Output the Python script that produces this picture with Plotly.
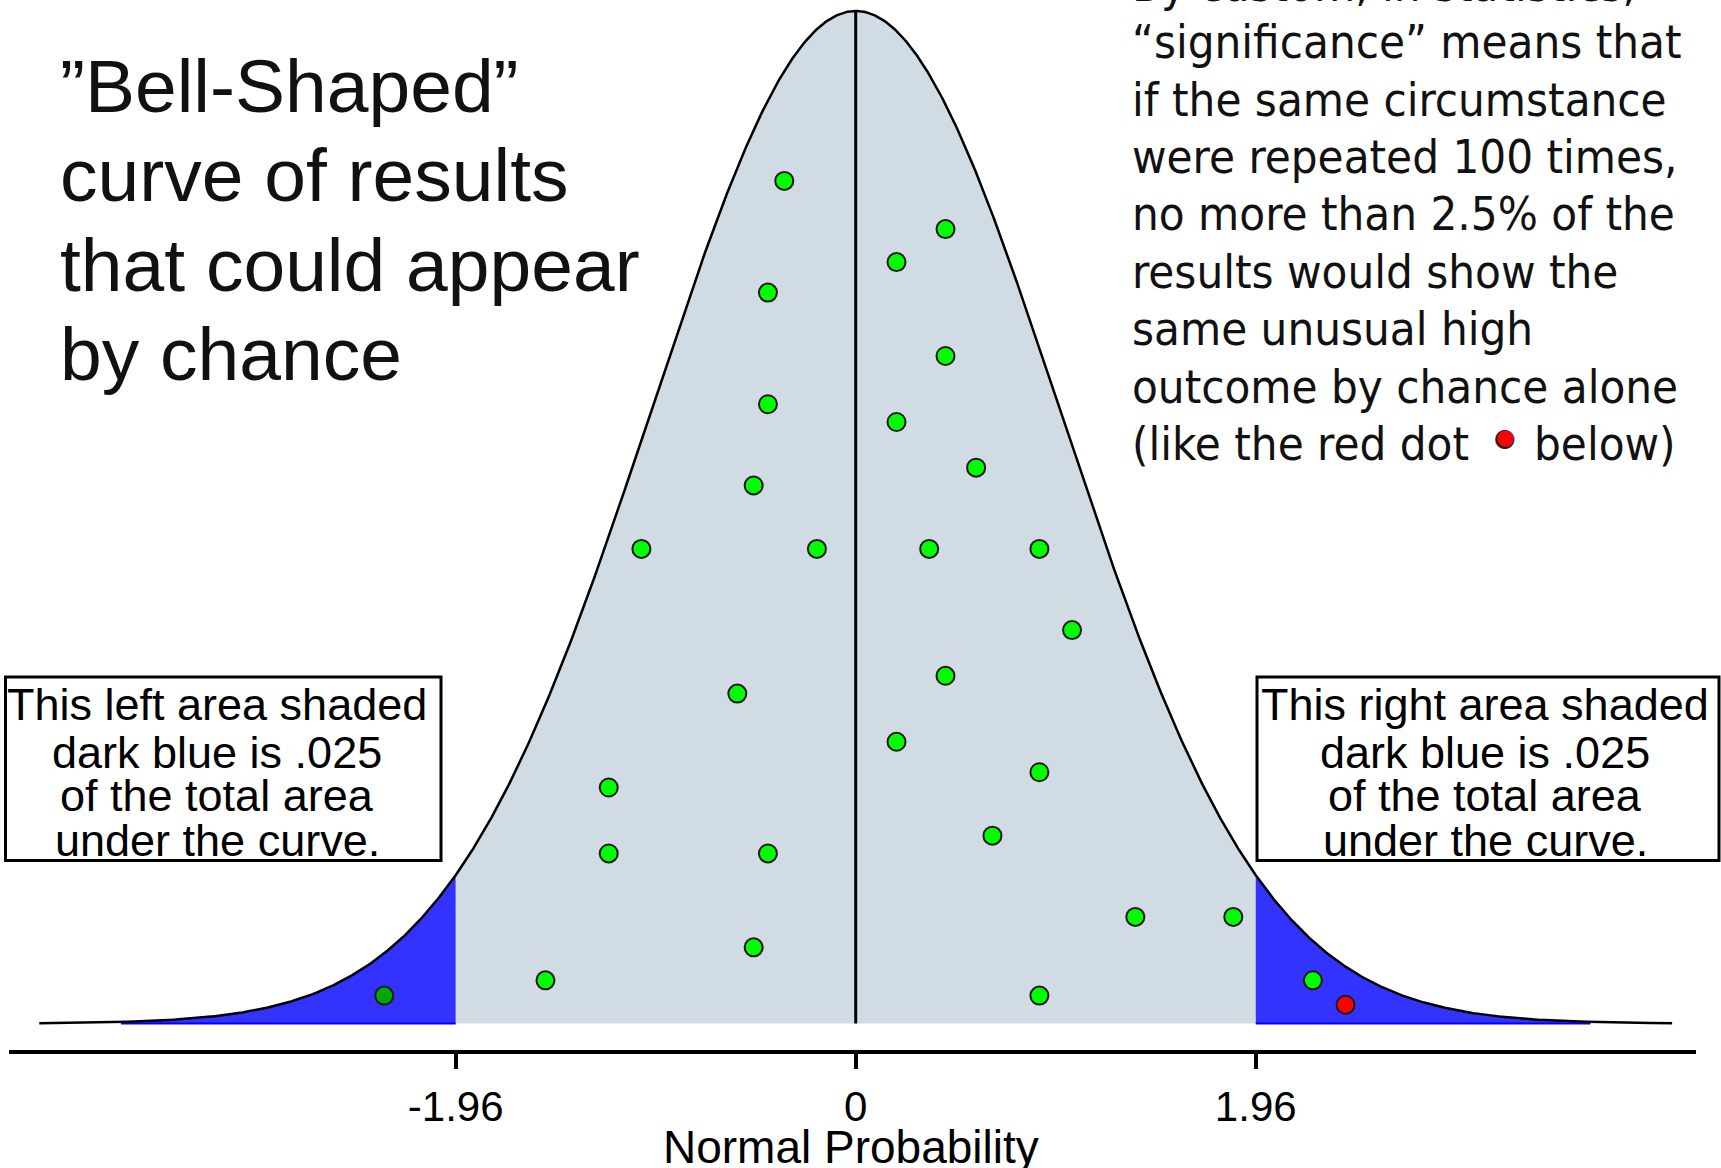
import numpy as np
import plotly.graph_objects as go

W, H = 1721, 1168

# ---------------- data ----------------
crit = 1.96                      # critical value (two-sided 5%)
curve_lo, curve_hi = -4.0, 4.0   # extent of drawn curve
tail_lo, tail_hi = -3.6, 3.6     # extent of blue shading
tick_vals = [-1.96, 0, 1.96]
tick_text = ["-1.96", "0", "1.96"]
x_title = "Normal Probability"

green_x = [-0.35, 0.44, 0.20, -0.43, 0.44, -0.43, 0.20, 0.59, -0.50, -1.05,
           -0.19, 0.36, 0.90, 1.06, 0.44, -0.58, 0.20, 0.90, -1.21, -1.21,
           -0.43, 0.67, 1.37, 1.85, -0.50, -1.52, 2.24, 0.90]
green_y = [0.332, 0.313, 0.300, 0.288, 0.263, 0.244, 0.237, 0.219, 0.212, 0.187,
           0.187, 0.187, 0.187, 0.155, 0.137, 0.130, 0.111, 0.099, 0.093, 0.067,
           0.067, 0.074, 0.042, 0.042, 0.030, 0.017, 0.017, 0.011]
dark_x = [-2.31]
dark_y = [0.011]
red_x = [2.40]
red_y = [0.0074]

left_title = ["\u201dBell-Shaped\u201d", "curve of results", "that could appear", "by chance"]
right_text = [
    "By custom, in statistics,",
    "\u201csignificance\u201d means that",
    "if the same circumstance",
    "were repeated 100 times,",
    "no more than 2.5% of the",
    "results would show the",
    "same unusual high",
    "outcome by chance alone",
    "(like the red dot",
]
right_text_tail = "below)"
left_box = ["This left area shaded", "dark blue is .025", "of the total area", "under the curve."]
right_box = ["This right area shaded", "dark blue is .025", "of the total area", "under the curve."]

# ---------------- helpers ----------------
def pdf(x):
    return np.exp(-np.asarray(x) ** 2 / 2) / np.sqrt(2 * np.pi)

def px(x):
    return x / W

def py(y):
    return 1 - y / H

fig = go.Figure()

# grey central area
xc = np.linspace(-crit, crit, 400)
fig.add_trace(go.Scatter(x=xc, y=pdf(xc), fill="tozeroy", fillcolor="#d1dbe4",
                         mode="none", hoverinfo="skip"))
# blue tails
for a, b in [(tail_lo, -crit), (crit, tail_hi)]:
    xt = np.linspace(a, b, 200)
    fig.add_trace(go.Scatter(x=xt, y=pdf(xt), fill="tozeroy", fillcolor="#3333ff",
                             mode="none", hoverinfo="skip"))
    fig.add_trace(go.Scatter(x=[a, b], y=[0, 0], mode="lines",
                             line=dict(color="#0000ff", width=2), hoverinfo="skip"))
# curve
xs = np.linspace(curve_lo, curve_hi, 1201)
fig.add_trace(go.Scatter(x=xs, y=pdf(xs), mode="lines",
                         line=dict(color="black", width=2.5), hoverinfo="skip"))
# centre line
fig.add_trace(go.Scatter(x=[0, 0], y=[0, float(pdf(0))], mode="lines",
                         line=dict(color="black", width=3), hoverinfo="skip"))
# dots
mk = dict(size=18, line=dict(color="#1a1a1a", width=2))
fig.add_trace(go.Scatter(x=green_x, y=green_y, mode="markers",
                         marker=dict(color="#00ff00", **mk)))
fig.add_trace(go.Scatter(x=dark_x, y=dark_y, mode="markers",
                         marker=dict(color="#00a800", **mk)))
fig.add_trace(go.Scatter(x=red_x, y=red_y, mode="markers",
                         marker=dict(color="#ff0000", **mk)))

ann = []
# left title
for i, t in enumerate(left_title):
    ann.append(dict(x=px(58), y=py(86 + 89.4 * i), text=t, xanchor="left", yanchor="middle",
                    font=dict(family="Liberation Sans, Arial", size=75, color="#111111")))
# right explanatory text
rfont = dict(family="DejaVu Sans Condensed, DejaVu Sans", size=47, color="#111111")
for i, t in enumerate(right_text):
    ann.append(dict(x=px(1130), y=py(-15.7 + 57.4 * i), text=t, xanchor="left", yanchor="middle",
                    font=rfont))
last_y = -15.7 + 57.4 * (len(right_text) - 1)
ann.append(dict(x=px(1532), y=py(last_y), text=right_text_tail, xanchor="left", yanchor="middle",
                font=rfont))
# inline red dot in the text (outline + fill)
ann.append(dict(x=px(1505), y=py(437), text="\u25cf", xanchor="center", yanchor="middle",
                font=dict(family="DejaVu Sans", size=25, color="#222222")))
ann.append(dict(x=px(1505), y=py(437), text="\u25cf", xanchor="center", yanchor="middle",
                font=dict(family="DejaVu Sans", size=21, color="#ff0000")))
# boxes text
box_rows = [704, 752, 796, 840]
for i, t in enumerate(left_box):
    ann.append(dict(x=px(217), y=py(box_rows[i]), text=t, xanchor="center", yanchor="middle",
                    font=dict(family="Liberation Sans, Arial", size=45, color="black")))
for i, t in enumerate(right_box):
    ann.append(dict(x=px(1485), y=py(box_rows[i]), text=t, xanchor="center", yanchor="middle",
                    font=dict(family="Liberation Sans, Arial", size=45, color="black")))
# x-axis title (placed low, partly cut by the page edge as in the original)
ann.append(dict(x=px(851), y=py(1147), text=x_title, xanchor="center", yanchor="middle",
                font=dict(family="Liberation Sans, Arial", size=46, color="black")))
for a in ann:
    a.update(xref="paper", yref="paper", showarrow=False)

shapes = [
    dict(type="rect", xref="paper", yref="paper", x0=px(5.5), x1=px(441), y0=py(677), y1=py(860.5),
         line=dict(color="black", width=3)),
    dict(type="rect", xref="paper", yref="paper", x0=px(1257), x1=px(1719), y0=py(677), y1=py(860.5),
         line=dict(color="black", width=3)),
]

x0px, x1px, zero_px, unit_px = 9, 1696, 855.7, 204.1
base_px, peak_px, bottom_px = 1023.5, 11, 1050
yunit = (base_px - peak_px) / float(pdf(0))

fig.update_layout(
    width=W, height=H, margin=dict(l=0, r=0, t=0, b=0, autoexpand=False),
    paper_bgcolor="white", plot_bgcolor="white", showlegend=False,
    annotations=ann, shapes=shapes,
    xaxis=dict(domain=[x0px / W, x1px / W], automargin=False,
               range=[(x0px - zero_px) / unit_px, (x1px - zero_px) / unit_px],
               showgrid=False, zeroline=False, showline=True, linecolor="black", linewidth=4,
               ticks="outside", ticklen=15, tickwidth=4, tickcolor="black",
               tickvals=tick_vals, ticktext=tick_text, ticklabelstandoff=2,
               tickfont=dict(family="Liberation Sans, Arial", size=42, color="black")),
    yaxis=dict(domain=[1 - bottom_px / H, 1], automargin=False,
               range=[(base_px - bottom_px) / yunit, base_px / yunit],
               visible=False),
)

fig.write_html("out.html", config={"displayModeBar": False},
               post_script="document.body.style.margin='0';document.body.style.overflow='hidden';")
